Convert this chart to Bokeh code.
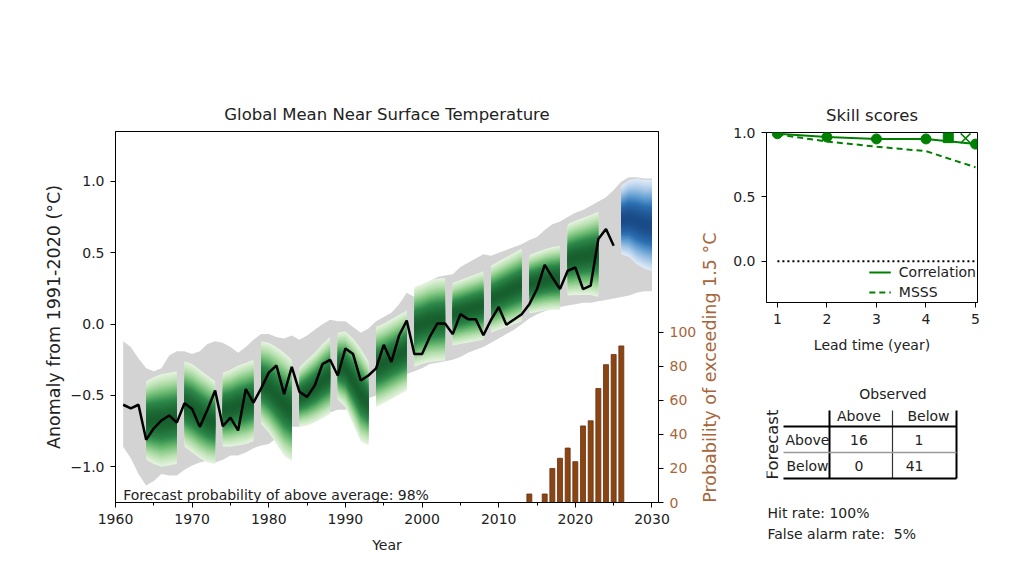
import math
from bokeh.plotting import figure
from bokeh.models import (Range1d, LinearAxis, FixedTicker, SingleIntervalTicker,
                          NumeralTickFormatter)
from bokeh.layouts import row, column
from bokeh.embed import file_html
from bokeh.resources import INLINE
from bokeh.core.properties import value

FONT = "DejaVu Sans"
TXT = "#222222"
BROWN_TXT = "#a8653a"

# ---------------- data ----------------
obs_years = list(range(1961, 2026))
obs_anom = [-0.565, -0.59, -0.565, -0.81, -0.73, -0.675, -0.64, -0.69, -0.555, -0.595,
            -0.72, -0.60, -0.465, -0.715, -0.655, -0.745, -0.455, -0.55, -0.45, -0.34,
            -0.29, -0.49, -0.30, -0.475, -0.51, -0.43, -0.28, -0.25, -0.36, -0.17,
            -0.21, -0.395, -0.36, -0.31, -0.145, -0.265, -0.08, 0.025, -0.21, -0.21,
            -0.09, 0.005, 0.005, -0.07, 0.07, 0.035, 0.035, -0.078, 0.03, 0.12,
            -0.004, 0.032, 0.07, 0.14, 0.246, 0.416, 0.327, 0.246, 0.374, 0.397,
            0.246, 0.27, 0.596, 0.666, 0.549]

band_years = list(range(1961, 2031))
band_upper = [-0.12, -0.16, -0.24, -0.31, -0.33, -0.31, -0.22, -0.19, -0.19, -0.21,
              -0.19, -0.14, -0.12, -0.13, -0.16, -0.20, -0.16, -0.11, -0.07, -0.07,
              -0.09, -0.10, -0.08, -0.11, -0.08, -0.04, 0.00, 0.03, 0.02, 0.02,
              -0.02, -0.06, -0.03, 0.02, 0.05, 0.08, 0.14, 0.22, 0.19, 0.25,
              0.30, 0.33, 0.34, 0.35, 0.40, 0.43, 0.46, 0.49, 0.48, 0.50,
              0.52, 0.54, 0.56, 0.59, 0.61, 0.66, 0.70, 0.72, 0.75, 0.78,
              0.80, 0.83, 0.86, 0.89, 0.94, 1.00, 1.03, 1.03, 1.02, 1.02]
band_lower = [-0.86, -0.94, -1.05, -1.13, -1.10, -1.05, -1.06, -1.06, -1.02, -0.99,
              -0.97, -0.955, -0.97, -0.95, -0.92, -0.92, -0.90, -0.87, -0.85, -0.84,
              -0.80, -0.76, -0.72, -0.72, -0.70, -0.68, -0.64, -0.62, -0.60, -0.60,
              -0.58, -0.55, -0.52, -0.50, -0.46, -0.42, -0.39, -0.35, -0.33, -0.31,
              -0.28, -0.27, -0.26, -0.25, -0.23, -0.20, -0.18, -0.16, -0.13, -0.10,
              -0.07, -0.04, 0.00, 0.04, 0.07, 0.09, 0.11, 0.12, 0.13, 0.14,
              0.15, 0.15, 0.16, 0.17, 0.18, 0.19, 0.20, 0.22, 0.23, 0.23]

# hindcasts (5-year blocks, 1964-2023)
fc_years = list(range(1964, 2024))
fc_mean = [-0.675, -0.675, -0.675, -0.665, -0.655,
           -0.56, -0.59, -0.63, -0.665, -0.69,
           -0.60, -0.59, -0.57, -0.555, -0.535,
           -0.41, -0.445, -0.50, -0.56, -0.605,
           -0.51, -0.48, -0.445, -0.40, -0.36,
           -0.295, -0.315, -0.40, -0.495, -0.555,
           -0.30, -0.275, -0.245, -0.215, -0.185,
           -0.02, 0.00, 0.02, 0.03, 0.035,
           0.07, 0.085, 0.10, 0.115, 0.13,
           0.175, 0.20, 0.225, 0.25, 0.275,
           0.28, 0.295, 0.31, 0.32, 0.325,
           0.45, 0.465, 0.475, 0.485, 0.49]
fc_half = [0.275, 0.305, 0.325, 0.325, 0.325,
           0.30, 0.31, 0.31, 0.305, 0.29,
           0.26, 0.27, 0.28, 0.285, 0.285,
           0.29, 0.315, 0.34, 0.36, 0.355,
           0.21, 0.23, 0.245, 0.26, 0.27,
           0.235, 0.265, 0.30, 0.325, 0.295,
           0.28, 0.28, 0.28, 0.28, 0.28,
           0.28, 0.28, 0.285, 0.29, 0.29,
           0.22, 0.225, 0.23, 0.235, 0.24,
           0.235, 0.24, 0.245, 0.25, 0.255,
           0.205, 0.21, 0.215, 0.22, 0.225,
           0.25, 0.26, 0.27, 0.28, 0.30]
BLOCK = 5

# new forecast 2026-2030
new_years = [2026, 2027, 2028, 2029, 2030]
new_mean = [0.73, 0.74, 0.72, 0.70, 0.69]
new_half = [0.24, 0.27, 0.30, 0.31, 0.32]

# probability of exceeding 1.5 C
prob_years = list(range(2014, 2027))
prob_exceed = [5, 0, 5, 20, 26, 32, 24, 45, 48, 67, 81, 87, 92]
prob_above_avg = 98

# skill scores
lead = [1, 2, 3, 4, 5]
corr = [0.99, 0.965, 0.95, 0.95, 0.91]
msss = [0.985, 0.93, 0.89, 0.855, 0.73]
sq_x, sq_y = [4.45], [0.96]
xm_x, xm_y = [4.8], [0.955]

# contingency table
tbl_cols = ["Above", "Below"]
tbl_rows = ["Above", "Below"]
tbl_vals = [[16, 1], [0, 41]]
hit_rate = 100
false_alarm = 5


# ---------------- helpers ----------------
def hex2rgb(h):
    h = h.lstrip("#")
    return tuple(int(h[i:i + 2], 16) for i in (0, 2, 4))


def cmap(stops, t):
    for i in range(len(stops) - 1):
        t0, c0 = stops[i]
        t1, c1 = stops[i + 1]
        if t <= t1 or i == len(stops) - 2:
            u = max(0.0, min(1.0, (t - t0) / (t1 - t0)))
            a, b = hex2rgb(c0), hex2rgb(c1)
            return "#%02x%02x%02x" % tuple(int(round(a[j] + (b[j] - a[j]) * u)) for j in range(3))


GREEN_STOPS = [(0.0, "#e2f2dc"), (0.2, "#b3deab"), (0.45, "#6dbb72"), (0.7, "#2e8a4a"), (1.0, "#175f2e")]
BLUE_STOPS = [(0.0, "#dde9f6"), (0.2, "#aac9e8"), (0.45, "#64a0d2"), (0.7, "#2c70b2"), (1.0, "#1a4a87")]
NLAYER = 26
PROFILE = 1.7


def draw_blocks(p, years, mean, half, blen, stops):
    nb = len(years) // blen
    e1 = math.exp(-0.5 * PROFILE ** 2)
    for k in range(NLAYER):
        f = 1.0 - k / NLAYER
        t = (math.exp(-0.5 * (PROFILE * f) ** 2) - e1) / (1 - e1)
        xs, ys = [], []
        for b in range(nb):
            yy = years[b * blen:(b + 1) * blen]
            mm = mean[b * blen:(b + 1) * blen]
            hh = half[b * blen:(b + 1) * blen]
            lo = [m - f * h for m, h in zip(mm, hh)]
            hi = [m + f * h for m, h in zip(mm, hh)]
            xs.append(list(yy) + list(yy)[::-1])
            ys.append(lo + hi[::-1])
        p.patches(xs, ys, fill_color=cmap(stops, t), line_color=None)


def style_axis(ax, color=TXT):
    ax.axis_line_color = "black"
    ax.axis_line_width = 1
    ax.major_tick_line_color = "black"
    ax.major_tick_out = 5
    ax.major_tick_in = 0
    ax.minor_tick_line_color = None
    ax.major_label_text_font = FONT
    ax.major_label_text_font_size = "14px"
    ax.major_label_text_color = color
    ax.major_label_standoff = 6
    ax.axis_label_text_font = FONT
    ax.axis_label_text_font_size = "14px"
    ax.axis_label_text_font_style = "normal"
    ax.axis_label_text_color = color


def style_fig(p):
    p.xgrid.visible = False
    p.ygrid.visible = False
    p.outline_line_color = "black"
    p.outline_line_width = 1
    p.background_fill_color = "white"
    p.border_fill_color = "white"
    p.title.text_font = FONT
    p.title.text_font_size = "16.5px"
    p.title.text_font_style = "normal"
    p.title.text_color = TXT
    p.title.align = "center"
    p.title.standoff = 16


def minus_overrides(ticks, fmt="%.1f"):
    return {t: (fmt % t).replace("-", "\u2212") for t in ticks if t < 0}


ROT_FONT = "17.5px"   # rotated titles appear stretched in the reference

# ---------------- main panel ----------------
X0, X1 = 1960, 2030.85
Y0, Y1 = -1.25, 1.35
TOP, BOT = 131, 83
p1 = figure(width=700, height=585, x_range=Range1d(X0, X1), y_range=Range1d(Y0, Y1),
            output_backend="svg", toolbar_location=None, title="Global Mean Near Surface Temperature",
            min_border_left=115, min_border_right=42, min_border_top=TOP, min_border_bottom=BOT)
style_fig(p1)

p1.varea(x=band_years, y1=band_lower, y2=band_upper, fill_color="#d3d3d3")
draw_blocks(p1, fc_years, fc_mean, fc_half, BLOCK, GREEN_STOPS)
draw_blocks(p1, new_years, new_mean, new_half, len(new_years), BLUE_STOPS)
p1.line(obs_years, obs_anom, line_color="black", line_width=2.5)

p1.extra_y_ranges = {"prob": Range1d(0, 218)}
p1.vbar(x=prob_years, top=prob_exceed, width=0.65, y_range_name="prob",
        fill_color="#8b4513", line_color="#6a3010", line_width=0.8)

p1.text(x=[1961], y=[-1.195], text=["Forecast probability of above average: %d%%" % prob_above_avg],
        text_font=value(FONT), text_font_size="14px", text_color=TXT,
        text_baseline="middle", text_align="left")

xa = p1.xaxis[0]
style_axis(xa)
xa.ticker = SingleIntervalTicker(interval=10, num_minor_ticks=2)
xa.minor_tick_line_color = "black"
xa.minor_tick_out = 3
xa.minor_tick_in = 0
xa.axis_label = "Year"
xa.axis_label_standoff = 10

ya = p1.yaxis[0]
style_axis(ya)
yt = [-1.0, -0.5, 0.0, 0.5, 1.0]
ya.ticker = FixedTicker(ticks=yt)
ya.formatter = NumeralTickFormatter(format="0.0")
ya.major_label_overrides = minus_overrides(yt)
ya.axis_label = "Anomaly from 1991-2020 (°C)"
ya.axis_label_text_font_size = ROT_FONT
ya.axis_label_standoff = 4

ra = LinearAxis(y_range_name="prob", ticker=FixedTicker(ticks=[0, 20, 40, 60, 80, 100]))
style_axis(ra, BROWN_TXT)
ra.major_tick_line_color = "black"
p1.add_layout(ra, "right")

# narrow strip holding the right-axis title (reads bottom-to-top)
strip = figure(width=30, height=585, x_range=Range1d(700, 730), y_range=Range1d(Y0, Y1),
               output_backend="svg", toolbar_location=None,
               min_border_left=0, min_border_right=0, min_border_top=TOP, min_border_bottom=BOT)
strip.axis.visible = False
strip.xgrid.visible = False
strip.ygrid.visible = False
strip.outline_line_color = None
strip.text(x=[709], y=[-0.305], text=["Probability of exceeding 1.5 °C"], angle=math.pi / 2,
           text_align="center", text_baseline="middle", text_font=value(FONT),
           text_font_size=ROT_FONT, text_color=BROWN_TXT)

# ---------------- skill panel ----------------
SK_L, SK_R = 36, 47
p2 = figure(width=294, height=365, x_range=Range1d(0.78, 5.04), y_range=Range1d(-0.32, 1.0),
            output_backend="svg", toolbar_location=None, title="Skill scores",
            min_border_left=SK_L, min_border_right=SK_R, min_border_top=132, min_border_bottom=63)
style_fig(p2)
p2.line([lead[0], lead[-1]], [0, 0], line_color="black", line_width=2, line_dash="2 3")
p2.line(lead, corr, line_color="green", line_width=2, legend_label="Correlation")
p2.line(lead, msss, line_color="green", line_width=2, line_dash="6 4", legend_label="MSSS")
p2.scatter(lead, corr, marker="circle", size=10, color="green")
p2.scatter(sq_x, sq_y, marker="square", size=10, color="green")
p2.scatter(xm_x, xm_y, marker="x", size=14, line_color="green", line_width=1.5)
style_axis(p2.xaxis[0])
style_axis(p2.yaxis[0])
p2.xaxis[0].ticker = FixedTicker(ticks=lead)
p2.xaxis[0].axis_label = "Lead time (year)"
p2.xaxis[0].axis_label_standoff = 10
p2.yaxis[0].ticker = FixedTicker(ticks=[0.0, 0.5, 1.0])
p2.yaxis[0].formatter = NumeralTickFormatter(format="0.0")
lg = p2.legend[0]
lg.location = "bottom_right"
lg.background_fill_alpha = 0
lg.border_line_alpha = 0
lg.label_text_font = FONT
lg.label_text_font_size = "14px"
lg.label_text_color = TXT
lg.glyph_width = 22
lg.glyph_height = 18
lg.label_height = 18
lg.spacing = 2
lg.padding = 1
lg.margin = 0
lg.label_standoff = 8

# ---------------- contingency table ----------------
# local coordinates: x = page px - 730, y = 585 - page px
p3 = figure(width=294, height=220, x_range=Range1d(SK_L, 294 - SK_R), y_range=Range1d(0, 220),
            output_backend="svg", toolbar_location=None,
            min_border_left=SK_L, min_border_right=SK_R, min_border_top=0, min_border_bottom=0)
p3.axis.visible = False
p3.xgrid.visible = False
p3.ygrid.visible = False
p3.outline_line_color = None

col_lines = [99, 162, 226]
row_lines = [159, 133, 107]
tbl_top = 175
tbl_left = 53
p3.segment(x0=[col_lines[0], col_lines[2]], y0=[tbl_top, tbl_top], x1=[col_lines[0], col_lines[2]],
           y1=[row_lines[2], row_lines[2]], line_color="black", line_width=2)
p3.segment(x0=[col_lines[1]], y0=[tbl_top], x1=[col_lines[1]], y1=[row_lines[2]],
           line_color="#333333", line_width=1.2)
p3.segment(x0=[tbl_left, tbl_left], y0=[row_lines[0], row_lines[2]], x1=[col_lines[2], col_lines[2]],
           y1=[row_lines[0], row_lines[2]], line_color="black", line_width=2)
p3.segment(x0=[tbl_left], y0=[row_lines[1]], x1=[col_lines[2]], y1=[row_lines[1]],
           line_color="#9a9a9a", line_width=1.5)

col_cx = [(col_lines[0] + col_lines[1]) / 2 - 2, (col_lines[1] + col_lines[2]) / 2 + 4]
row_cy = [(row_lines[0] + row_lines[1]) / 2, (row_lines[1] + row_lines[2]) / 2]
head_y = (tbl_top + row_lines[0]) / 2 + 3
txt_kw = dict(text_font=value(FONT), text_font_size="14px", text_color=TXT, text_baseline="middle")

p3.text(x=[(col_lines[0] + col_lines[2]) / 2], y=[192], text=["Observed"], text_align="center", **txt_kw)
p3.text(x=col_cx, y=[head_y, head_y], text=tbl_cols, text_align="center", **txt_kw)
p3.text(x=[(tbl_left + col_lines[0]) / 2 + 1] * 2, y=row_cy, text=tbl_rows, text_align="center", **txt_kw)
p3.text(x=[col_cx[0], col_cx[0]], y=row_cy, text=[str(tbl_vals[0][0]), str(tbl_vals[1][0])],
        text_align="center", **txt_kw)
p3.text(x=[col_lines[1] + 31, col_lines[1] + 31], y=row_cy, text=[str(tbl_vals[0][1]), str(tbl_vals[1][1])],
        text_align="right", **txt_kw)
p3.text(x=[42], y=[141], text=["Forecast"], angle=math.pi / 2, text_align="center",
        text_font=value(FONT), text_font_size="16.5px", text_color=TXT, text_baseline="middle")
p3.text(x=[37, 37], y=[73, 52],
        text=["Hit rate: %d%%" % hit_rate, "False alarm rate:\u00a0 %d%%" % false_alarm],
        text_align="left", **txt_kw)

layout = row(p1, strip, column(p2, p3))
open("out.html", "w").write(file_html(layout, INLINE))
